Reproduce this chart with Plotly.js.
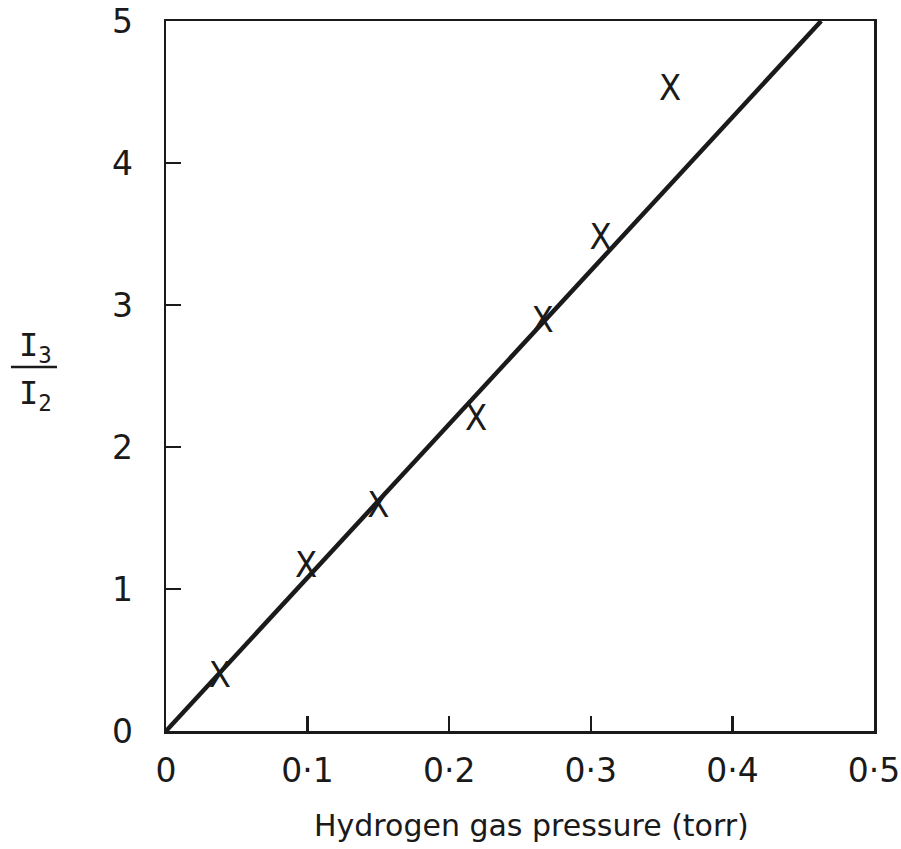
<!DOCTYPE html>
<html>
<head>
<meta charset="utf-8">
<script src="https://cdn.plot.ly/plotly-3.0.1.min.js"></script>
<style>html,body{margin:0;padding:0;background:#fff;}#chart{width:901px;height:849px;}</style>
</head>
<body>
<div id="chart"></div>
<script>
// Data
const pressure = [0.038, 0.099, 0.150, 0.219, 0.266, 0.307, 0.356];
const ratio    = [0.37, 1.15, 1.57, 2.18, 2.87, 3.46, 4.51];
const fitX = [0, 0.4627];
const fitY = [0, 5];
const xTickVals = [0, 0.1, 0.2, 0.3, 0.4, 0.5];
const xTickText = ['0', '0·1', '0·2', '0·3', '0·4', '0·5'];
const yTickVals = [0, 1, 2, 3, 4, 5];
const yTickText = ['0', '1', '2', '3', '4', '5'];
const xTitle = 'Hydrogen gas pressure (torr)';

const font = 'DejaVu Sans, Liberation Sans, sans-serif';

const traces = [
  {
    x: fitX, y: fitY, mode: 'lines', type: 'scatter',
    line: {color: '#1a1a1a', width: 4.5}, hoverinfo: 'skip', showlegend: false
  },
  {
    x: pressure, y: ratio, mode: 'text', type: 'scatter',
    text: pressure.map(() => 'X'), textposition: 'middle center',
    textfont: {family: 'DejaVu Sans Condensed, DejaVu Sans, sans-serif', size: 36, color: '#1a1a1a'},
    showlegend: false
  }
];

const axisCommon = {
  showline: true, linecolor: '#1a1a1a', linewidth: 2.5, mirror: true,
  ticks: 'inside', ticklen: 15, tickwidth: 2.5, tickcolor: '#1a1a1a',
  showgrid: false, zeroline: false, fixedrange: true,
  tickfont: {family: font, size: 33, color: '#1a1a1a'}
};

const layout = {
  width: 901, height: 849,
  margin: {l: 166, r: 27, t: 21, b: 118, pad: 0},
  paper_bgcolor: '#fff', plot_bgcolor: '#fff',
  showlegend: false,
  xaxis: Object.assign({}, axisCommon, {
    range: [0, 0.5], tickmode: 'array', tickvals: xTickVals, ticktext: xTickText,
    ticklabelstandoff: 9
  }),
  yaxis: Object.assign({}, axisCommon, {
    range: [0, 5], tickmode: 'array', tickvals: yTickVals, ticktext: yTickText,
    ticklabelstandoff: 24
  }),
  annotations: [
    {xref: 'paper', yref: 'paper', x: 0.5, y: -0.1338, xshift: 11, xanchor: 'center', yanchor: 'middle',
     text: xTitle, showarrow: false, font: {family: font, size: 30, color: '#1a1a1a'}},
    {xref: 'paper', yref: 'paper', x: 0, y: 0.5127, xshift: -131, yshift: 20, xanchor: 'center', yanchor: 'middle',
     text: 'I<sub>3</sub>', showarrow: false, font: {family: 'DejaVu Sans Mono, monospace', size: 32, color: '#1a1a1a'}},
    {xref: 'paper', yref: 'paper', x: 0, y: 0.5127, xshift: -131, yshift: -28, xanchor: 'center', yanchor: 'middle',
     text: 'I<sub>2</sub>', showarrow: false, font: {family: 'DejaVu Sans Mono, monospace', size: 32, color: '#1a1a1a'}}
  ],
  shapes: [
    {type: 'line', xref: 'paper', yref: 'paper', x0: -0.219, x1: -0.154, y0: 0.5127, y1: 0.5127,
     line: {color: '#1a1a1a', width: 2.5}}
  ]
};

Plotly.newPlot('chart', traces, layout, {staticPlot: true, displayModeBar: false});
</script>
</body>
</html>
